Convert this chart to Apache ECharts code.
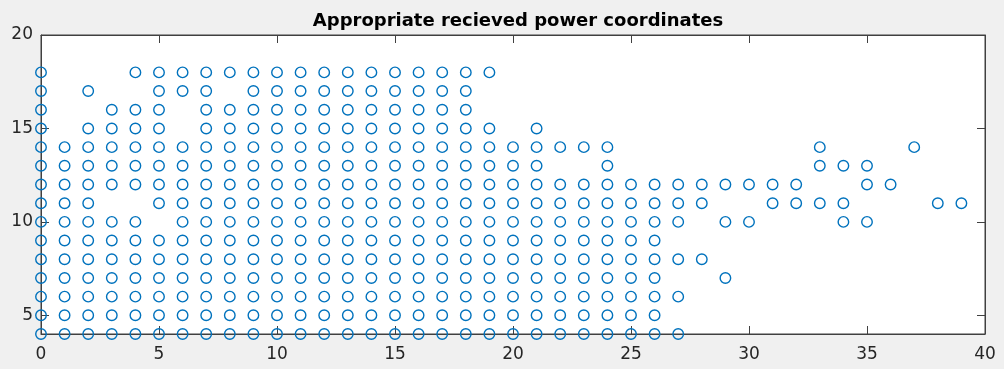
<!DOCTYPE html>
<html>
<head>
<meta charset="utf-8">
<script src="https://cdn.jsdelivr.net/npm/echarts@6/dist/echarts.min.js"></script>
<style>
  html, body { margin: 0; padding: 0; background: #f0f0f0; }
  #chart { width: 1004px; height: 369px; }
</style>
</head>
<body>
<div id="chart"></div>
<script>
// ---- Data: x positions of the markers found on each y row ----
const titleText = "Appropriate recieved power coordinates";
const xTicks = [0, 5, 10, 15, 20, 25, 30, 35, 40];
const yTicks = [5, 10, 15, 20];

const row18 = [0, 4, 5, 6, 7, 8, 9, 10, 11, 12, 13, 14, 15, 16, 17, 18, 19];
const row17 = [0, 2, 5, 6, 7, 9, 10, 11, 12, 13, 14, 15, 16, 17, 18];
const row16 = [0, 3, 4, 5, 7, 8, 9, 10, 11, 12, 13, 14, 15, 16, 17, 18];
const row15 = [0, 2, 3, 4, 5, 7, 8, 9, 10, 11, 12, 13, 14, 15, 16, 17, 18, 19, 21];
const row14 = [0, 1, 2, 3, 4, 5, 6, 7, 8, 9, 10, 11, 12, 13, 14, 15, 16, 17, 18, 19, 20, 21, 22, 23, 24, 33, 37];
const row13 = [0, 1, 2, 3, 4, 5, 6, 7, 8, 9, 10, 11, 12, 13, 14, 15, 16, 17, 18, 19, 20, 21, 24, 33, 34, 35];
const row12 = [0, 1, 2, 3, 4, 5, 6, 7, 8, 9, 10, 11, 12, 13, 14, 15, 16, 17, 18, 19, 20, 21, 22, 23, 24, 25, 26, 27, 28, 29, 30, 31, 32, 35, 36];
const row11 = [0, 1, 2, 5, 6, 7, 8, 9, 10, 11, 12, 13, 14, 15, 16, 17, 18, 19, 20, 21, 22, 23, 24, 25, 26, 27, 28, 31, 32, 33, 34, 38, 39];
const row10 = [0, 1, 2, 3, 4, 6, 7, 8, 9, 10, 11, 12, 13, 14, 15, 16, 17, 18, 19, 20, 21, 22, 23, 24, 25, 26, 27, 29, 30, 34, 35];
const row9  = [0, 1, 2, 3, 4, 5, 6, 7, 8, 9, 10, 11, 12, 13, 14, 15, 16, 17, 18, 19, 20, 21, 22, 23, 24, 25, 26];
const row8  = [0, 1, 2, 3, 4, 5, 6, 7, 8, 9, 10, 11, 12, 13, 14, 15, 16, 17, 18, 19, 20, 21, 22, 23, 24, 25, 26, 27, 28];
const row7  = [0, 1, 2, 3, 4, 5, 6, 7, 8, 9, 10, 11, 12, 13, 14, 15, 16, 17, 18, 19, 20, 21, 22, 23, 24, 25, 26, 29];
const row6  = [0, 1, 2, 3, 4, 5, 6, 7, 8, 9, 10, 11, 12, 13, 14, 15, 16, 17, 18, 19, 20, 21, 22, 23, 24, 25, 26, 27];
const row5  = [0, 1, 2, 3, 4, 5, 6, 7, 8, 9, 10, 11, 12, 13, 14, 15, 16, 17, 18, 19, 20, 21, 22, 23, 24, 25, 26];
const row4  = [0, 1, 2, 3, 4, 5, 6, 7, 8, 9, 10, 11, 12, 13, 14, 15, 16, 17, 18, 19, 20, 21, 22, 23, 24, 25, 26, 27];

const rowYs = [18, 17, 16, 15, 14, 13, 12, 11, 10, 9, 8, 7, 6, 5, 4];
const rowXs = [row18, row17, row16, row15, row14, row13, row12, row11, row10, row9, row8, row7, row6, row5, row4];

const points = [];
rowYs.forEach((y, i) => rowXs[i].forEach(x => points.push([x, y])));

const axisColor = '#404040';
const labelColor = '#262626';
const font = 'DejaVu Sans';

const chart = echarts.init(document.getElementById('chart'), null, { renderer: 'canvas' });
chart.setOption({
  backgroundColor: '#f0f0f0',
  animation: false,
  title: {
    text: titleText,
    left: 513, top: 7, textAlign: 'center',
    textStyle: { fontFamily: font, fontWeight: 'bold', fontSize: 18, color: '#000' }
  },
  grid: {
    left: 41, right: 19, top: 35, bottom: 35,
    show: true, backgroundColor: '#ffffff', borderColor: axisColor, borderWidth: 1
  },
  xAxis: [
    {
      type: 'value', min: 0, max: 40, interval: 5, position: 'bottom',
      axisLine: { show: true, onZero: false, lineStyle: { color: axisColor, width: 1 } },
      axisTick: { show: true, inside: true, length: 8, lineStyle: { color: axisColor } },
      axisLabel: { show: true, margin: 12, color: labelColor, fontFamily: font, fontSize: 17,
                   customValues: xTicks },
      splitLine: { show: false }
    },
    {
      type: 'value', min: 0, max: 40, interval: 5, position: 'top',
      axisLine: { show: true, onZero: false, lineStyle: { color: axisColor, width: 1 } },
      axisTick: { show: true, inside: true, length: 8, lineStyle: { color: axisColor } },
      axisLabel: { show: false },
      splitLine: { show: false }
    }
  ],
  yAxis: [
    {
      type: 'value', min: 4, max: 20, position: 'left',
      axisLine: { show: true, onZero: false, lineStyle: { color: axisColor, width: 1 } },
      axisTick: { show: true, inside: true, length: 8, lineStyle: { color: axisColor }, customValues: yTicks },
      axisLabel: { show: true, margin: 8, color: labelColor, fontFamily: font, fontSize: 17, customValues: yTicks },
      splitLine: { show: false }
    },
    {
      type: 'value', min: 4, max: 20, position: 'right',
      axisLine: { show: true, onZero: false, lineStyle: { color: axisColor, width: 1 } },
      axisTick: { show: true, inside: true, length: 8, lineStyle: { color: axisColor }, customValues: yTicks },
      axisLabel: { show: false },
      splitLine: { show: false }
    }
  ],
  series: [{
    type: 'scatter',
    xAxisIndex: 0, yAxisIndex: 0,
    data: points,
    clip: false,
    symbol: 'circle',
    symbolSize: 10.5,
    itemStyle: { color: 'rgba(0,0,0,0)', borderColor: '#0072BD', borderWidth: 1.4, opacity: 1 },
    emphasis: { disabled: true },
    z: 3
  }]
});
</script>
</body>
</html>
